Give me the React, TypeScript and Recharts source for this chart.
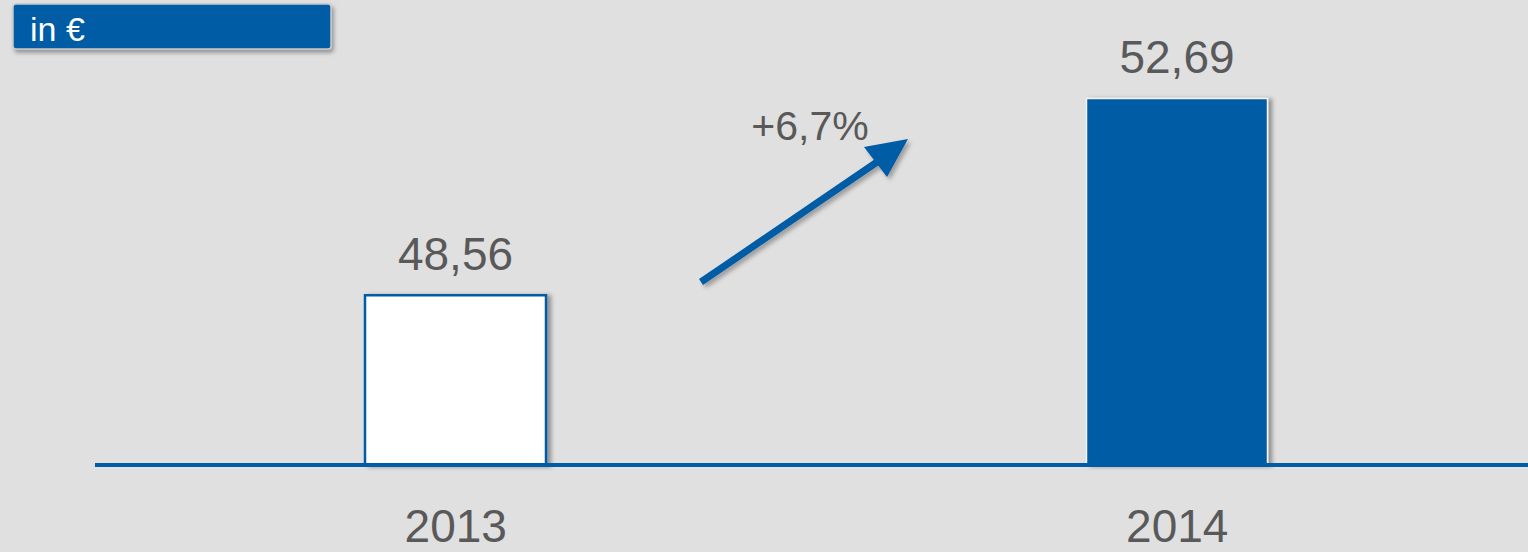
import React from "react";
import { BarChart, Bar, XAxis, YAxis, Cell, LabelList } from "recharts";

const years = ["2013", "2014"];
const values = [48.56, 52.69];
const valueLabels = ["48,56", "52,69"];
const growthLabel = "+6,7%";
const unitLabel = "in €";

const BLUE = "#005ca4";
const TEXT = "#595959";
const BG = "#e0e0e0";
const FONT = "'Liberation Sans', Arial, sans-serif";

const data = years.map((y, i) => ({ year: y, value: values[i], label: valueLabels[i] }));

export default function App() {
  return (
    <div
      style={{
        position: "absolute",
        left: 0,
        top: 0,
        width: 1528,
        height: 552,
        overflow: "hidden",
        background: BG,
        fontFamily: FONT,
      }}
    >
      <BarChart
        width={1538}
        height={552}
        data={data}
        margin={{ top: 36, right: 0, left: 95, bottom: 0 }}
        barSize={181}
      >
        <defs>
          <filter id="barShadow" x="-10%" y="-10%" width="130%" height="130%">
            <feDropShadow dx="4" dy="1" stdDeviation="2" floodColor="#000" floodOpacity="0.35" />
          </filter>
        </defs>
        <YAxis hide domain={[45, 54]} />
        <XAxis
          dataKey="year"
          height={87}
          axisLine={{ stroke: BLUE, strokeWidth: 4 }}
          tickLine={false}
          tickSize={0}
          tickMargin={44}
          tick={{ fontSize: 46, fill: TEXT, fontFamily: FONT }}
        />
        <Bar dataKey="value" isAnimationActive={false} filter="url(#barShadow)">
          {data.map((d, i) => (
            <Cell
              key={d.year}
              fill={i === 0 ? "#ffffff" : BLUE}
              stroke={i === 0 ? BLUE : "#f4f4f4"}
              strokeWidth={i === 0 ? 2.5 : 1.5}
            />
          ))}
          <LabelList
            dataKey="label"
            position="top"
            offset={25}
            style={{ fontSize: 46, fill: TEXT, fontFamily: FONT }}
          />
        </Bar>
      </BarChart>

      <svg
        width={1528}
        height={552}
        style={{ position: "absolute", left: 0, top: 0, pointerEvents: "none" }}
      >
        <defs>
          <filter id="arrowShadow" x="-20%" y="-20%" width="140%" height="140%">
            <feDropShadow dx="3" dy="3" stdDeviation="2" floodColor="#000" floodOpacity="0.3" />
          </filter>
          <filter id="boxShadow" x="-5%" y="-20%" width="110%" height="150%">
            <feDropShadow dx="2" dy="3" stdDeviation="2" floodColor="#000" floodOpacity="0.35" />
          </filter>
        </defs>
        <g filter="url(#arrowShadow)">
          <line x1={701} y1={282} x2={880} y2={160} stroke={BLUE} strokeWidth={7} />
          <polygon points="908,139 864,147 887,177" fill={BLUE} />
        </g>
        <text x={810} y={140} textAnchor="middle" fontSize={41} fill={TEXT} fontFamily={FONT}>
          {growthLabel}
        </text>
        <rect
          x={13}
          y={4}
          width={318}
          height={45}
          rx={3}
          fill={BLUE}
          stroke="#c8c8c8"
          strokeWidth={1.5}
          filter="url(#boxShadow)"
        />
        <text x={30} y={41} fontSize={34} fill="#ffffff" fontFamily={FONT}>
          {unitLabel}
        </text>
      </svg>
    </div>
  );
}
